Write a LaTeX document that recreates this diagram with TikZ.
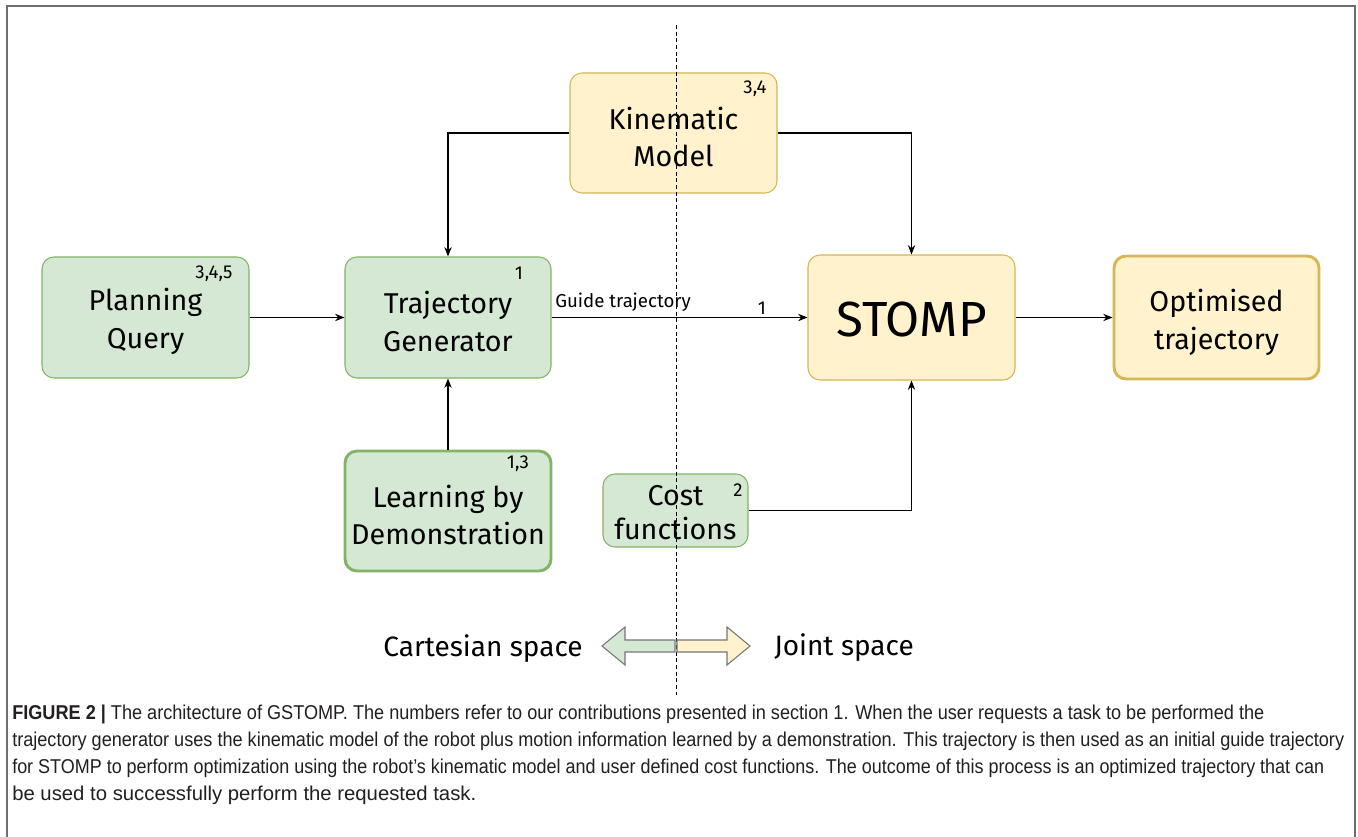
\documentclass[tikz,border=0pt]{standalone}
\usepackage{fontspec}
\setmainfont{Fira Sans}
\newfontfamily\capfont{Liberation Sans}
\usetikzlibrary{arrows.meta,calc}
\definecolor{gfill}{HTML}{D5E8D4}
\definecolor{gline}{HTML}{82B366}
\definecolor{yfill}{HTML}{FFF2CC}
\definecolor{yline}{HTML}{D6B656}
\definecolor{framec}{HTML}{6E6E6E}
\definecolor{capc}{HTML}{231F20}
\definecolor{arrline}{HTML}{777777}
\begin{document}
\begin{tikzpicture}[x=0.75pt,y=-0.75pt,
  box/.style={draw, rounded corners=9pt, inner sep=0pt, line width=0.8pt},
  gbox/.style={box, fill=gfill, draw=gline},
  ybox/.style={box, fill=yfill, draw=yline},
  thick box/.style={line width=2.2pt},
  boxtext/.style={align=center, inner sep=0pt, font=\fontsize{21.5}{28}\selectfont},
  num/.style={font=\fontsize{14}{16}\selectfont, inner sep=0pt},
  arr/.style={-{Stealth[length=7pt,width=5.5pt]}, line width=0.8pt},
  capline/.style={anchor=base west, inner sep=0pt, text=capc, font=\capfont\fontsize{15}{17}\selectfont},
  bigarrow/.style={draw=arrline, line width=0.8pt, line join=miter}
]
\useasboundingbox (0,0) rectangle (1358,837);
\fill[white] (0,0) rectangle (1358,837);
% frame
\coordinate (fbl) at (7,840);
\coordinate (ftl) at (7,6);
\coordinate (ftr) at (1355,6);
\coordinate (fbr) at (1355,840);
\draw[framec, line width=1.3pt] (fbl) -- (ftl) -- (ftr) -- (fbr);

% boxes
\node[ybox, minimum width=207*0.75pt, minimum height=120*0.75pt] (km) at (673.5,133) {};
\node[gbox, minimum width=207*0.75pt, minimum height=121*0.75pt] (pq) at (145.5,317.5) {};
\node[gbox, minimum width=206*0.75pt, minimum height=121*0.75pt] (tg) at (448,317.5) {};
\node[ybox, minimum width=207*0.75pt, minimum height=125*0.75pt] (st) at (911.5,317.5) {};
\node[ybox, thick box, minimum width=205*0.75pt, minimum height=123*0.75pt] (ot) at (1216.5,317.5) {};
\node[gbox, thick box, minimum width=206*0.75pt, minimum height=120*0.75pt] (lbd) at (448,511) {};
\node[gbox, minimum width=145*0.75pt, minimum height=73*0.75pt] (cf) at (675.5,510.5) {};

% box texts
\node[boxtext] (kmt) at ($(km.center)+(0,4)$) {Kinematic\\Model};
\node[boxtext] (pqt) at ($(pq.center)+(0,4)$) {Planning\\Query};
\node[boxtext] (tgt) at ($(tg.center)+(0,4)$) {Trajectory\\Generator};
\node[boxtext, font=\fontsize{37}{40}\selectfont] (stt) at ($(st.center)+(0,2)$) {STOMP};
\node[boxtext] (ott) at ($(ot.center)+(0,5)$) {Optimised\\trajectory};
\node[boxtext] (lbdt) at ($(lbd.center)+(0,4)$) {Learning by\\Demonstration};
\node[boxtext, font=\fontsize{21.5}{26}\selectfont] (cft) at ($(cf.center)+(0,2)$) {Cost\\functions};

% numbers
\node[num] (n1) at (214,274) {3,4,5};
\node[num] (n2) at (519,273) {1};
\node[num] (n3) at (755,89) {3,4};
\node[num] (n4) at (518,464) {1,3};
\node[num] (n5) at (738,490) {2};

% dashed divider
\coordinate (dtop) at (676,25);
\coordinate (dbot) at (676,695);
\draw[line width=0.7pt, dash pattern=on 3pt off 2pt] (dtop) -- (dbot);

% connectors
\draw[arr] (km.west) -| (tg.north);
\draw[arr] (km.east) -| (st.north);
\draw[arr] (pq.east) -- (tg.west);
\draw[arr] (tg.east) -- (st.west);
\draw[arr] (st.east) -- (ot.west);
\draw[arr] (lbd.north) -- (tg.south);
\draw[arr] (cf.east) -| (st.south);

\node[anchor=west, inner sep=0pt, font=\fontsize{14}{16}\selectfont] (gl) at (555,302) {Guide trajectory};
\node[num] (g1) at (762,308) {1};

% space arrows
\draw[bigarrow, fill=gfill] (602,646) -- (625,627) -- (625,640) -- (675,640) -- (675,652) -- (625,652) -- (625,665) -- cycle;
\draw[bigarrow, fill=yfill] (677,640) -- (727,640) -- (727,627) -- (750,646) -- (727,665) -- (727,652) -- (677,652) -- cycle;
\node[font=\fontsize{21}{24}\selectfont, inner sep=0pt] (cs) at (483,649) {Cartesian space};
\node[font=\fontsize{21}{24}\selectfont, inner sep=0pt] (js) at (844,648) {Joint space};

% caption
\node[capline] (c1) at (12,719) {\resizebox{939pt}{\height}{\textbf{FIGURE 2 |} The architecture of GSTOMP. The numbers refer to our contributions presented in section 1. When the user requests a task to be performed the}};
\node[capline] (c2) at (12,746) {\resizebox{999pt}{\height}{trajectory generator uses the kinematic model of the robot plus motion information learned by a demonstration. This trajectory is then used as an initial guide trajectory}};
\node[capline] (c3) at (12,773) {\resizebox{984pt}{\height}{for STOMP to perform optimization using the robot’s kinematic model and user defined cost functions. The outcome of this process is an optimized trajectory that can}};
\node[capline] (c4) at (12,800) {\resizebox{348pt}{\height}{be used to successfully perform the requested task.}};
\end{tikzpicture}
\end{document}
